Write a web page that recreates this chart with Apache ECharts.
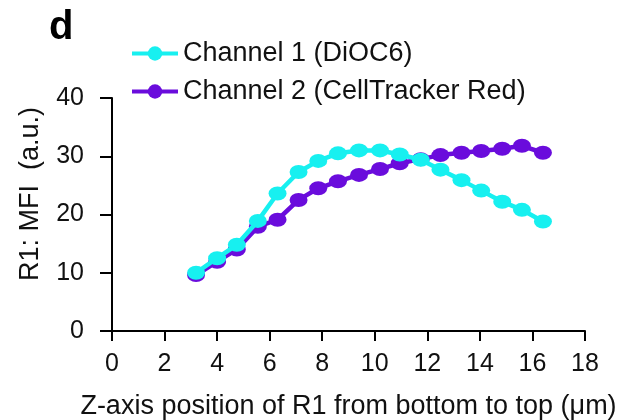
<!DOCTYPE html>
<html>
<head>
<meta charset="utf-8">
<script src="https://cdn.jsdelivr.net/npm/echarts@6/dist/echarts.min.js"></script>
<style>
  html, body { margin: 0; padding: 0; background: #fff; }
  #chart { width: 630px; height: 420px; }
</style>
</head>
<body>
<div id="chart"></div>
<script>
// z position (µm) of each slice
var zPos = [3.2, 4.0, 4.75, 5.55, 6.3, 7.1, 7.85, 8.6, 9.4, 10.2, 10.95, 11.75, 12.5, 13.3, 14.05, 14.85, 15.6, 16.4]
// channel 1 (DiOC6) MFI
var ch1 = [10.0, 12.5, 14.8, 18.9, 23.6, 27.3, 29.2, 30.5, 31.0, 31.0, 30.3, 29.4, 27.7, 25.9, 24.1, 22.2, 20.8, 18.8]
// channel 2 (CellTracker Red) MFI
var ch2 = [9.6, 11.9, 14.0, 17.9, 19.1, 22.5, 24.5, 25.7, 26.8, 27.8, 28.8, 29.5, 30.2, 30.6, 30.9, 31.3, 31.8, 30.6]
var seriesNames = ['Channel 1 (DiOC6)', 'Channel 2 (CellTracker Red)']
var yTitle = 'R1: MFI  (a.u.)'
var xTitle = 'Z-axis position of R1 from bottom to top (μm)'

var cyan = '#17F0F0'
var purple = '#6A0CDC'
var font = 'Liberation Sans, Arial, sans-serif'

function pairs(xs, ys){
    return xs.map(function(x, i){ return [x, ys[i]] })
}

var chart = echarts.init(document.getElementById('chart'))

var option = {
    animation: false,
    textStyle: { fontFamily: font, color: '#000' },
    title: {
        text: 'd',
        left: 44,
        top: 3,
        textStyle: { fontSize: 40, fontWeight: 'bold', color: '#000', fontFamily: font }
    },
    legend: {
        orient: 'vertical',
        left: 125,
        top: 35,
        itemWidth: 46,
        itemHeight: 18,
        itemGap: 11,
        lineStyle: { width: 4 },
        textStyle: { fontSize: 27, color: '#111', fontFamily: font, padding: [0, 0, 0, 0] },
        data: seriesNames
    },
    graphic: [{
        type: 'text',
        x: 31,
        y: 194,
        rotation: Math.PI / 2,
        style: {
            text: yTitle,
            fontSize: 27,
            fontFamily: font,
            fill: '#111',
            align: 'center',
            verticalAlign: 'middle'
        }
    }],
    grid: { left: 112, right: 45, top: 98, bottom: 89, outerBoundsMode: 'none', containLabel: false },
    xAxis: {
        type: 'value',
        min: 0,
        max: 18,
        interval: 2,
        name: xTitle,
        nameLocation: 'middle',
        nameGap: 62,
        nameTextStyle: { fontSize: 27, color: '#111', fontFamily: font },
        axisLine: { lineStyle: { color: '#000', width: 2 } },
        axisTick: { length: 10, lineStyle: { color: '#000', width: 2 } },
        axisLabel: { fontSize: 25, color: '#111', margin: 21, fontFamily: font },
        splitLine: { show: false }
    },
    yAxis: {
        type: 'value',
        min: 0,
        max: 40,
        interval: 10,
        axisLine: { show: true, lineStyle: { color: '#000', width: 2 } },
        axisTick: { show: true, length: 12, lineStyle: { color: '#000', width: 2 } },
        axisLabel: { fontSize: 25, color: '#111', margin: 28, fontFamily: font },
        splitLine: { show: false }
    },
    series: [
        {
            name: seriesNames[1],
            type: 'line',
            data: pairs(zPos, ch2),
            symbol: 'circle',
            symbolSize: [18, 14],
            lineStyle: { color: purple, width: 4.5 },
            itemStyle: { color: purple },
            z: 2
        },
        {
            name: seriesNames[0],
            type: 'line',
            data: pairs(zPos, ch1),
            symbol: 'circle',
            symbolSize: [18, 14],
            lineStyle: { color: cyan, width: 4.5 },
            itemStyle: { color: cyan },
            z: 3
        }
    ]
}

chart.setOption(option, true)
</script>
</body>
</html>
